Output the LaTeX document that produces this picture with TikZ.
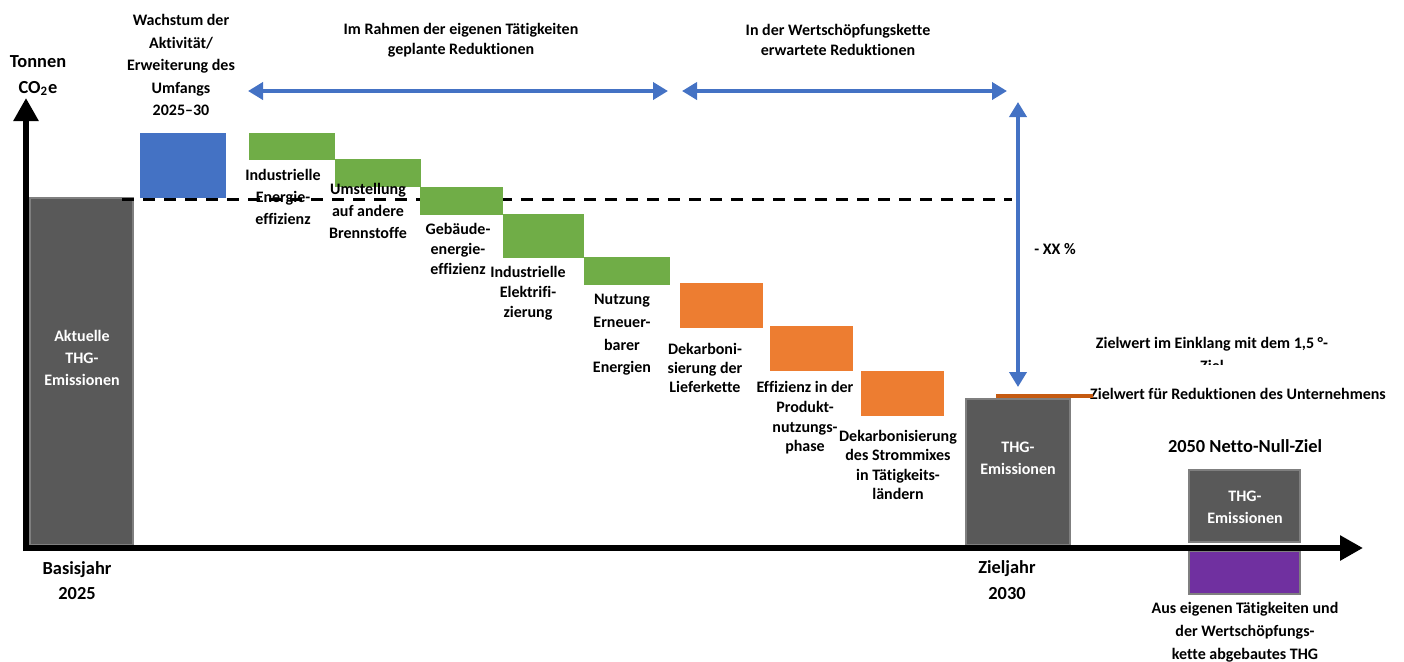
\documentclass[tikz,border=0pt]{standalone}
\usepackage{fontspec}
\setmainfont{Carlito}[Ligatures={NoCommon,NoDiscretionary,NoContextual}]
\usetikzlibrary{arrows.meta}
\definecolor{cgray}{RGB}{89,89,89}
\definecolor{cborder}{RGB}{127,127,127}
\definecolor{cblue}{RGB}{68,114,196}
\definecolor{cgreen}{RGB}{112,173,71}
\definecolor{corange}{RGB}{237,125,49}
\definecolor{cdorange}{RGB}{197,90,17}
\definecolor{cpurple}{RGB}{112,48,160}
\begin{document}
\begin{tikzpicture}[x=0.5pt,y=-0.5pt,
  bar/.style={anchor=north west,inner sep=0pt,outer sep=0pt,draw=none},
  graybar/.style={bar,fill=cgray,draw=cborder,line width=1.2pt},
  lbl/.style={font=\bfseries\fontsize{8}{#1}\selectfont,align=center,inner sep=0pt},
  lbl/.default=10,
  wlbl/.style={lbl=#1,text=white},
  wlbl/.default=11,
  axlbl/.style={font=\bfseries\fontsize{9.2}{12.75}\selectfont,align=center,inner sep=0pt},
  axis/.style={line width=3pt,-{Triangle[length=11.5pt,width=12pt]}},
  barrow/.style={cblue,line width=2pt,{Triangle[length=7.5pt,width=8.5pt]}-{Triangle[length=7.5pt,width=8.5pt]}}
]
\useasboundingbox (0,0) rectangle (1404,661);

% bars
\node[graybar,minimum width=51.5pt,minimum height=173.5pt] (base) at (30,198) {};
\node[bar,fill=cblue,minimum width=43pt,minimum height=32.5pt] (growth) at (140,133) {};
\node[bar,fill=cgreen,minimum width=43pt,minimum height=13.5pt] (g1) at (249,133) {};
\node[bar,fill=cgreen,minimum width=43pt,minimum height=14pt] (g2) at (335,159) {};
\node[bar,fill=cgreen,minimum width=40.5pt,minimum height=22pt] (g4) at (503,214) {};
\node[bar,fill=cgreen,minimum width=43pt,minimum height=14pt] (g5) at (584,257) {};
\node[bar,fill=corange,minimum width=41.5pt,minimum height=22.5pt] (o1) at (680,283) {};
\node[bar,fill=corange,minimum width=41.5pt,minimum height=22.5pt] (o2) at (770,326) {};
\node[bar,fill=corange,minimum width=41.5pt,minimum height=22.5pt] (o3) at (861,371) {};
\node[graybar,minimum width=52pt,minimum height=73pt] (target) at (966,399) {};
\node[graybar,minimum width=55.5pt,minimum height=36pt] (netzero) at (1189,470) {};
\node[bar,fill=cpurple,draw=cborder,line width=1.2pt,minimum width=55.5pt,minimum height=21.5pt] (removed) at (1189,551) {};

% labels
\node[wlbl] (basetxt) at (82,358) {Aktuelle\\THG-\\Emissionen};
\node[wlbl] (targettxt) at (1018,458) {THG-\\Emissionen};
\node[wlbl] (nztxt) at (1245,507.5) {THG-\\Emissionen};
\node[lbl=11.25] (growthtxt) at (181,65) {Wachstum der\\Aktivität/\\Erweiterung des\\Umfangs\\2025–30};
\node[lbl] (ownhead) at (461,40) {Im Rahmen der eigenen Tätigkeiten\\geplante Reduktionen};
\node[lbl] (chainhead) at (838,40) {In der Wertschöpfungskette\\erwartete Reduktionen};
\node[lbl=11] (t1) at (283,197) {Industrielle\\Energie-\\effizienz};
\node[lbl=11] (t2) at (368,211) {Umstellung\\auf andere\\Brennstoffe};
\node[lbl] (t3) at (458,249) {Gebäude-\\energie-\\effizienz};
\node[lbl] (t4) at (528,293) {Industrielle\\Elektrifi-\\zierung};
\node[lbl=11.3] (t5) at (622,335) {Nutzung\\Erneuer-\\barer\\Energien};
\node[lbl=9.7] (t6) at (705,368) {Dekarboni-\\sierung der\\Lieferkette};
\node[lbl=9.8] (t7) at (805,418) {Effizienz in der\\Produkt-\\nutzungs-\\phase};
\node[lbl=9.7] (t8) at (898,465) {Dekarbonisierung\\des Strommixes\\in Tätigkeits-\\ländern};
\node[lbl=11.5] (t9) at (1245,632) {Aus eigenen Tätigkeiten und\\der Wertschöpfungs-\\kette abgebautes THG};
\node[lbl=11.5] (z15) at (1212,354) {Zielwert im Einklang mit dem 1,5 °-\\Ziel};
\node[lbl,fill=white,inner xsep=0pt,minimum height=29pt] (zcomp) at (1238,394) {Zielwert für Reduktionen des Unternehmens};
\node[axlbl] (nz) at (1245,446) {2050 Netto-Null-Ziel};
\node[lbl] (pct) at (1055,249) {- XX \%};
\node[axlbl] (ylab) at (38,75.5) {Tonnen\\CO\textsubscript{2}e};
\node[axlbl] (baseyr) at (77,580.5) {Basisjahr\\2025};
\node[axlbl] (targetyr) at (1007,580) {Zieljahr\\2030};

% dashed reference line
\coordinate (d0) at (122,199);
\coordinate (d1) at (1012,199);
\draw[line width=1.5pt,dash pattern=on 6pt off 4.5pt] (d0) -- (d1);
\node[bar,fill=cgreen,minimum width=41.5pt,minimum height=14pt] (g3) at (420,187) {};

% target line
\coordinate (tl0) at (996,396);
\coordinate (tl1) at (1093,396);
\draw[cdorange,line width=2pt] (tl0) -- (tl1);

% blue arrows
\coordinate (a0) at (248,91);
\coordinate (a1) at (668,91);
\coordinate (a2) at (682,91);
\coordinate (a3) at (1007,91);
\coordinate (v0) at (1018,102);
\coordinate (v1) at (1018,387);
\draw[barrow] (a0) -- (a1);
\draw[barrow] (a2) -- (a3);
\draw[barrow] (v0) -- (v1);

% axes
\coordinate (o) at (26,551);
\coordinate (ytop) at (26,98);
\coordinate (x0) at (23,548);
\coordinate (xend) at (1363,548);
\draw[axis] (o) -- (ytop);
\draw[axis] (x0) -- (xend);
\end{tikzpicture}
\end{document}
